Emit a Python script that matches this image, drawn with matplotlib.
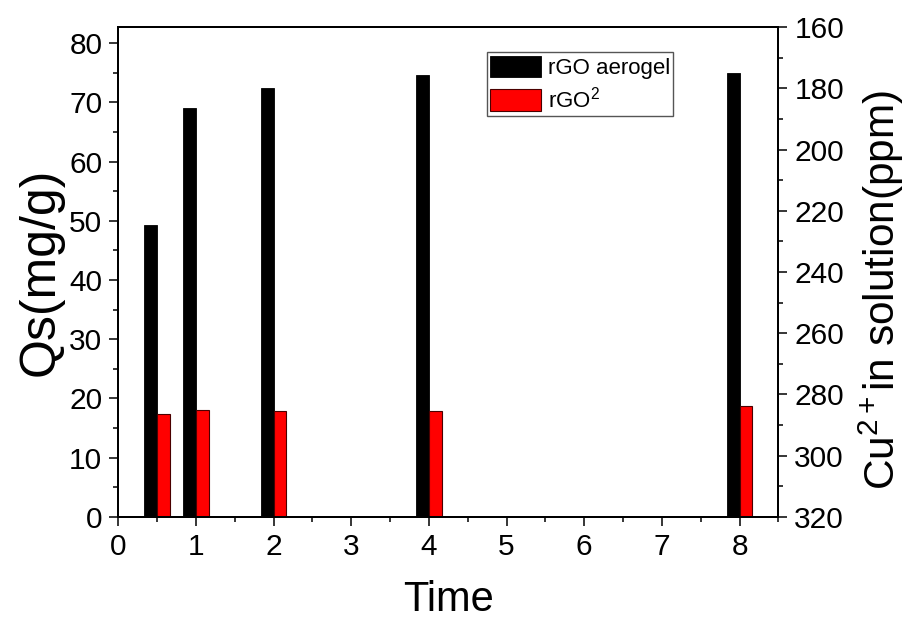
import numpy as np
import matplotlib.pyplot as plt
from matplotlib.ticker import MultipleLocator

plt.rcParams['font.family'] = ['Liberation Sans', 'DejaVu Sans']
plt.rcParams['mathtext.fontset'] = 'custom'
plt.rcParams['mathtext.rm'] = 'Liberation Sans'
plt.rcParams['mathtext.it'] = 'Liberation Sans:italic'

# Данные
time = np.array([0.5, 1, 2, 4, 8])
qs_aerogel = [49.3, 69.0, 72.4, 74.7, 75.0]
qs_rgo2 = [17.3, 18.1, 17.9, 17.9, 18.7]
w = 0.165

fig = plt.figure(figsize=(9.06, 6.19), dpi=100)
ax = fig.add_axes([0.1306, 0.1653, 0.7285, 0.7906])

ax.bar(time - w / 2, qs_aerogel, width=w, color='black', edgecolor='black', linewidth=0.6, label='rGO aerogel')
ax.bar(time + w / 2, qs_rgo2, width=w, color='#ff0000', edgecolor='#4a0000', linewidth=0.8, label=r'rGO$\mathregular{^2}$')

ax.set_xlim(0, 8.5)
ax.set_ylim(0, 82.7)
ax.xaxis.set_major_locator(MultipleLocator(1))
ax.xaxis.set_minor_locator(MultipleLocator(0.5))
ax.yaxis.set_major_locator(MultipleLocator(10))
ax.yaxis.set_minor_locator(MultipleLocator(5))
ax.set_xlabel('Time', fontsize=30, labelpad=14)
ax.set_ylabel('Qs(mg/g)', fontsize=36, labelpad=4)

ax2 = ax.twinx()
ax2.set_ylim(320, 160)
ax2.yaxis.set_major_locator(MultipleLocator(20))
ax2.yaxis.set_minor_locator(MultipleLocator(10))
ax2.set_ylabel(r'Cu$\mathregular{^{2+}}$in solution(ppm)', fontsize=30.5)
ax2.yaxis.set_label_coords(1.118, 0.463)

for a in (ax, ax2):
    for s in a.spines.values():
        s.set_linewidth(1.4)
    a.tick_params(which='major', direction='out', length=6.5, width=1.1, labelsize=21.5, pad=5)
    a.tick_params(which='minor', direction='out', length=3.6, width=1.1)
ax.tick_params(axis='y', which='both', right=False)
ax.tick_params(axis='x', which='both', top=False)

leg = ax.legend(loc='upper left', bbox_to_anchor=(0.558, 0.949), fontsize=16,
                frameon=True, fancybox=False, edgecolor='#555555', framealpha=1,
                handlelength=2.3, handleheight=1.1, borderpad=0.15, labelspacing=0.35,
                handletextpad=0.3, borderaxespad=0)
leg.get_frame().set_linewidth(1.0)

plt.savefig('out.png', dpi=100)
